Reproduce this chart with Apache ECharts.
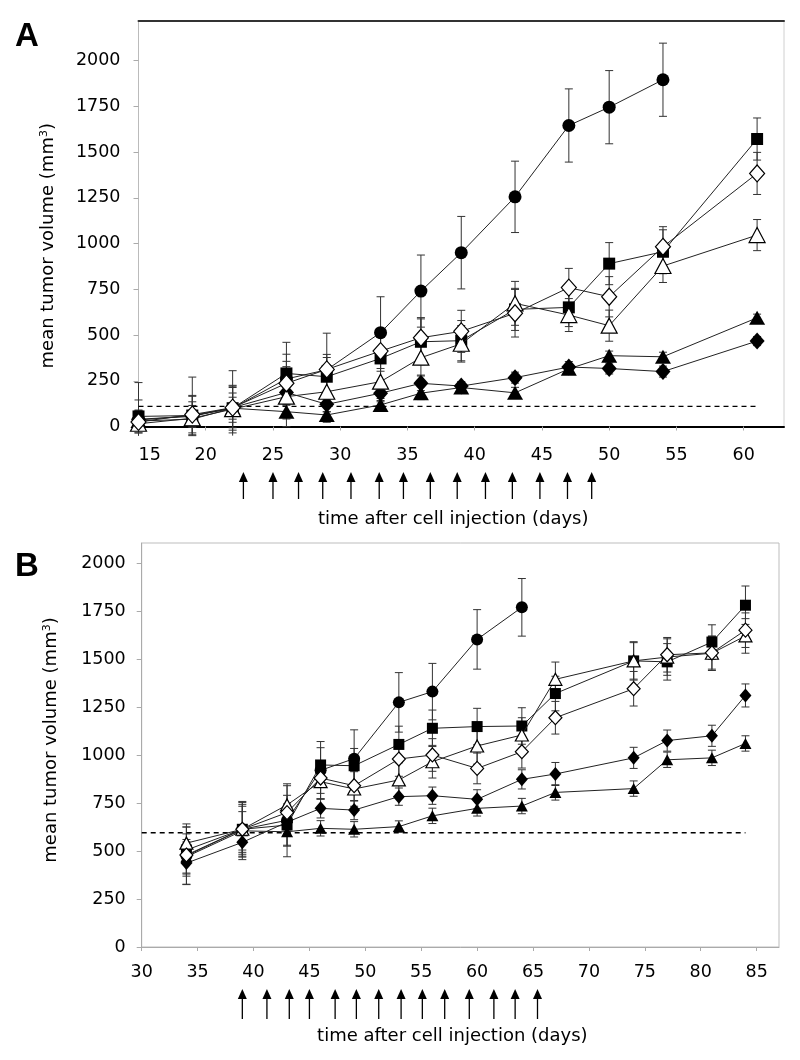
<!DOCTYPE html>
<html><head><meta charset="utf-8">
<script src="https://cdn.jsdelivr.net/npm/echarts@6/dist/echarts.min.js"></script>
<style>html,body{margin:0;padding:0;background:#fff}#c{width:800px;height:1060px}</style>
</head><body><div id="c"></div>
<script>
// ---------- Panel A data ----------
const daysA = [15, 19, 22, 26, 29, 33, 36, 39, 43, 47, 50, 54, 61];
const circleA   = [35, 60, 100, 260, 310, 513, 740, 950, 1255, 1645, 1745, 1895];
const squareA   = [55, 60, 100, 290, 272, 372, 463, 469, 640, 651, 890, 955, 1571];
const oDiamondA = [25, 65, 103, 236, 312, 412, 485, 520, 619, 759, 709, 982, 1383];
const oTriA     = [15, 45, 95, 163, 190, 245, 376, 452, 673, 609, 551, 877, 1046];
const fTriA     = [30, 40, 100, 81, 63, 118, 182, 213, 184, 315, 387, 381, 594];
const fDiamondA = [40, 55, 103, 186, 121, 182, 236, 221, 267, 325, 317, 300, 467];
const circleAErr   = [205, 210, 205, 200, 200, 196, 197, 198, 195, 200, 200, 200];
const squareAErr   = [90, 110, 120, 105, 122, 130, 125, 110, 115, 105, 115, 120, 115];
const oDiamondAErr = [60, 100, 110, 120, 65, 110, 110, 115, 130, 105, 110, 110, 115];
const oTriAErr     = [70, 90, 130, 164, 110, 110, 95, 100, 120, 90, 85, 90, 85];
const fTriAErr     = [40, 40, 60, 40, 40, 35, 35, 25, 30, 20, 25, 25, 20];
const fDiamondAErr = [50, 60, 80, 60, 40, 40, 40, 25, 30, 30, 30, 30, 25];
const thresholdA = 110;
const arrowsA = [22.8, 25, 26.9, 28.7, 30.8, 32.9, 34.7, 36.7, 38.7, 40.8, 42.8, 44.85, 46.9, 48.7];
const xTicksA = [15, 20, 25, 30, 35, 40, 45, 50, 55, 60];

// ---------- Panel B data ----------
const daysB = [34, 39, 43, 46, 49, 53, 56, 60, 64, 67, 74, 77, 81, 84];
const circleB   = [475, 613, 660, 920, 981, 1274, 1330, 1602, 1769];
const squareB   = [505, 613, 635, 948, 944, 1055, 1139, 1148, 1151, 1320, 1490, 1485, 1588, 1780];
const oTriB     = [541, 613, 740, 861, 823, 870, 965, 1047, 1104, 1394, 1490, 1510, 1530, 1620];
const oDiamondB = [479, 613, 700, 880, 840, 979, 1000, 930, 1017, 1194, 1345, 1522, 1532, 1650];
const fDiamondB = [437, 545, 650, 722, 713, 783, 788, 769, 873, 901, 985, 1075, 1100, 1310];
const fTriB     = [470, 605, 600, 618, 613, 627, 683, 722, 734, 805, 825, 975, 985, 1060];
const circleBErr   = [150, 145, 190, 150, 150, 155, 147, 155, 150];
const squareBErr   = [120, 140, 110, 90, 90, 95, 95, 95, 95, 90, 100, 95, 90, 100];
const oTriBErr     = [100, 130, 100, 90, 90, 90, 85, 95, 90, 90, 95, 95, 90, 90];
const oDiamondBErr = [110, 120, 90, 80, 80, 90, 85, 80, 85, 85, 90, 90, 85, 90];
const fDiamondBErr = [110, 90, 60, 50, 50, 45, 45, 50, 50, 60, 55, 55, 55, 60];
const fTriBErr     = [90, 100, 70, 40, 40, 30, 40, 40, 40, 40, 40, 40, 40, 40];
const thresholdB = 595;
const thresholdBRange = [30, 84];
const arrowsB = [39, 41.2, 43.2, 45, 47.3, 49.2, 51.2, 53.2, 55.1, 57.1, 59.3, 61.5, 63.4, 65.4];
const xTicksB = [30, 35, 40, 45, 50, 55, 60, 65, 70, 75, 80, 85];

const yTicks = [0, 250, 500, 750, 1000, 1250, 1500, 1750, 2000];

// ---------- styling helpers ----------
const FONT = 'DejaVu Sans';
const labelStyle = { fontFamily: FONT, fontSize: 17.5, color: '#000', formatter: v => String(v) };

function pts(days, vals) { return vals.map((v, i) => [days[i], v]); }

function lineSeries(ax, days, vals, symbol, size, filled, z) {
  return {
    type: 'line', xAxisIndex: ax.x, yAxisIndex: ax.y,
    data: pts(days, vals), symbol: symbol, symbolSize: size, showAllSymbol: true,
    lineStyle: { color: '#222', width: 1 },
    itemStyle: { color: filled ? '#000' : '#fff', borderColor: '#000', borderWidth: filled ? 0 : 1.2 },
    z: z, animation: false, silent: true
  };
}

// floor: lowest value an error bar is drawn down to (bars are cut just below the axis)
function errSeries(ax, days, vals, errs, floor) {
  return {
    type: 'custom', xAxisIndex: ax.x, yAxisIndex: ax.y, clip: false, z: 1,
    data: vals.map((v, i) => [days[i], v - errs[i], v + errs[i]]),
    renderItem: function (params, api) {
      const lowV = api.value(1);
      const cut = lowV < floor;
      const lo = api.coord([api.value(0), cut ? floor : lowV]);
      const hi = api.coord([api.value(0), api.value(2)]);
      const cw = 4;
      const st = { stroke: '#333', lineWidth: 1 };
      const ch = [
        { type: 'line', shape: { x1: lo[0], y1: lo[1], x2: hi[0], y2: hi[1] }, style: st },
        { type: 'line', shape: { x1: hi[0] - cw, y1: hi[1], x2: hi[0] + cw, y2: hi[1] }, style: st }
      ];
      if (!cut) ch.push({ type: 'line', shape: { x1: lo[0] - cw, y1: lo[1], x2: lo[0] + cw, y2: lo[1] }, style: st });
      return { type: 'group', children: ch };
    },
    animation: false, silent: true
  };
}

function arrowSeries(ax, days, tipOff, baseOff) {
  return {
    type: 'custom', xAxisIndex: ax.x, yAxisIndex: ax.y, clip: false, z: 5,
    data: days.map(d => [d, 0]),
    renderItem: function (params, api) {
      const p = api.coord([api.value(0), 0]);
      const x = p[0], yTip = p[1] + tipOff, yBase = p[1] + baseOff;
      return { type: 'group', children: [
        { type: 'line', shape: { x1: x, y1: yTip + 6, x2: x, y2: yBase }, style: { stroke: '#000', lineWidth: 1.3 } },
        { type: 'polygon', shape: { points: [[x, yTip], [x - 4.5, yTip + 10], [x + 4.5, yTip + 10]] }, style: { fill: '#000' } }
      ] };
    },
    animation: false, silent: true
  };
}

function dashSeries(ax, x0, x1, v) {
  return {
    type: 'line', xAxisIndex: ax.x, yAxisIndex: ax.y, data: [[x0, v], [x1, v]],
    symbol: 'none', lineStyle: { color: '#000', width: 1.3, type: [5, 4] }, z: 2,
    animation: false, silent: true
  };
}

const A = { x: 0, y: 0 }, B = { x: 2, y: 1 };

const yName = 'mean tumor volume (mm{sup|3})';
const nameStyle = {
  fontFamily: FONT, fontSize: 18, color: '#000',
  rich: { sup: { fontFamily: FONT, fontSize: 11, verticalAlign: 'top', color: '#000', padding: [0, 0, 9, 0] } }
};

const option = {
  backgroundColor: '#fff',
  animation: false,
  grid: [
    { left: 138.5, top: 21, width: 645.5, height: 405.5, show: true, borderColor: '#d0d0d0', borderWidth: 1, backgroundColor: 'transparent' },
    { left: 141.7, top: 543, width: 637.3, height: 404, show: true, borderColor: '#bdbdbd', borderWidth: 1, backgroundColor: 'transparent' }
  ],
  xAxis: [
    { gridIndex: 0, type: 'value', min: 15, max: 63, position: 'bottom',
      axisLine: { lineStyle: { color: '#000', width: 2 } },
      axisTick: { customValues: xTicksA, length: 4, lineStyle: { color: '#aaa' } },
      axisLabel: Object.assign({ customValues: xTicksA, margin: 20, alignMinLabel: 'left' }, labelStyle),
      splitLine: { show: false },
      name: 'time after cell injection (days)', nameLocation: 'middle', nameGap: 84,
      nameTextStyle: { fontFamily: FONT, fontSize: 18, color: '#000', padding: [0, 16, 0, 0] } },
    { gridIndex: 0, type: 'value', min: 15, max: 63, position: 'top',
      axisLine: { lineStyle: { color: '#333', width: 2 } },
      axisTick: { show: false }, axisLabel: { show: false }, splitLine: { show: false } },
    { gridIndex: 1, type: 'value', min: 30, max: 87, position: 'bottom',
      axisLine: { lineStyle: { color: '#aaa', width: 1 } },
      axisTick: { customValues: xTicksB, length: 4, lineStyle: { color: '#aaa' } },
      axisLabel: Object.assign({ customValues: xTicksB, margin: 16 }, labelStyle),
      splitLine: { show: false },
      name: 'time after cell injection (days)', nameLocation: 'middle', nameGap: 80,
      nameTextStyle: { fontFamily: FONT, fontSize: 18, color: '#000', padding: [0, 16, 0, 0] } }
  ],
  yAxis: [
    { gridIndex: 0, type: 'value', min: 0, max: 2216,
      axisLine: { show: true, lineStyle: { color: '#bbb', width: 1 } },
      axisTick: { show: true, customValues: yTicks, length: 5, lineStyle: { color: '#aaa' } },
      axisLabel: Object.assign({ customValues: yTicks, margin: 18 }, labelStyle),
      splitLine: { show: false },
      name: yName, nameLocation: 'middle', nameGap: 80, nameRotate: 90,
      nameTextStyle: Object.assign({}, nameStyle, { padding: [0, 44, 0, 0] }) },
    { gridIndex: 1, type: 'value', min: 0, max: 2104,
      axisLine: { show: true, lineStyle: { color: '#aaa', width: 1 } },
      axisTick: { show: true, customValues: yTicks, length: 5, lineStyle: { color: '#aaa' } },
      axisLabel: Object.assign({ customValues: yTicks, margin: 16 }, labelStyle),
      splitLine: { show: false },
      name: yName, nameLocation: 'middle', nameGap: 80, nameRotate: 90,
      nameTextStyle: Object.assign({}, nameStyle, { padding: [0, 0, 0, 10] }) }
  ],
  graphic: [
    { type: 'text', left: 15, top: 20, style: { text: 'A', font: 'bold 33px "Liberation Sans"', fill: '#000' } },
    { type: 'text', left: 15, top: 550, style: { text: 'B', font: 'bold 33px "Liberation Sans"', fill: '#000' } }
  ],
  series: [
    // Panel A
    dashSeries(A, daysA[0], daysA[daysA.length - 1], thresholdA),
    errSeries(A, daysA, circleA, circleAErr, -50),
    errSeries(A, daysA, squareA, squareAErr, -50),
    errSeries(A, daysA, oDiamondA, oDiamondAErr, -50),
    errSeries(A, daysA, oTriA, oTriAErr, -50),
    errSeries(A, daysA, fTriA, fTriAErr, -50),
    errSeries(A, daysA, fDiamondA, fDiamondAErr, -50),
    lineSeries(A, daysA, fDiamondA, 'diamond', [15, 17], true, 3),
    lineSeries(A, daysA, fTriA, 'triangle', [16, 14], true, 3),
    lineSeries(A, daysA, circleA, 'circle', 13, true, 3),
    lineSeries(A, daysA, squareA, 'rect', 12, true, 3),
    lineSeries(A, daysA, oTriA, 'triangle', [16, 15], false, 4),
    lineSeries(A, daysA, oDiamondA, 'diamond', [15, 17], false, 4),
    arrowSeries(A, arrowsA, 45.5, 72.5),
    // Panel B
    dashSeries(B, thresholdBRange[0], thresholdBRange[1], thresholdB),
    errSeries(B, daysB, circleB, circleBErr, 0),
    errSeries(B, daysB, squareB, squareBErr, 0),
    errSeries(B, daysB, oTriB, oTriBErr, 0),
    errSeries(B, daysB, oDiamondB, oDiamondBErr, 0),
    errSeries(B, daysB, fDiamondB, fDiamondBErr, 0),
    errSeries(B, daysB, fTriB, fTriBErr, 0),
    lineSeries(B, daysB, fTriB, 'triangle', [12, 11], true, 3),
    lineSeries(B, daysB, fDiamondB, 'diamond', [12, 14], true, 3),
    lineSeries(B, daysB, circleB, 'circle', 12, true, 3),
    lineSeries(B, daysB, squareB, 'rect', 11, true, 3),
    lineSeries(B, daysB, oTriB, 'triangle', [13, 12], false, 4),
    lineSeries(B, daysB, oDiamondB, 'diamond', [13, 14], false, 4),
    arrowSeries(B, arrowsB, 42, 72)
  ]
};

const chart = echarts.init(document.getElementById('c'), null, { renderer: 'canvas' });
chart.setOption(option);
</script>
</body></html>
